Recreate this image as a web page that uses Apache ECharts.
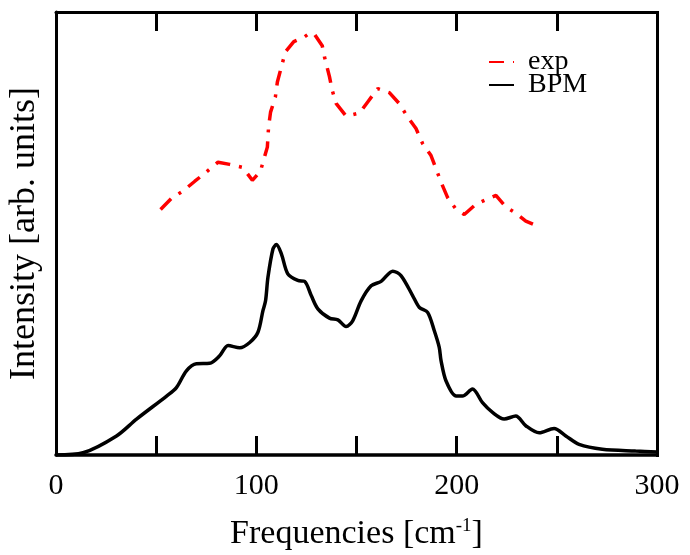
<!DOCTYPE html>
<html>
<head>
<meta charset="utf-8">
<script src="https://cdn.jsdelivr.net/npm/echarts@6/dist/echarts.min.js"></script>
<style>
html,body{margin:0;padding:0;background:#fff;}
#wrap{position:relative;width:690px;height:555px;}
#chart{width:690px;height:555px;}
#rightFrame{position:absolute;background:#000;width:3px;}
</style>
</head>
<body>
<div id="wrap"><div id="chart"></div><div id="rightFrame"></div></div>
<script>
// Frequencies (cm^-1) and intensities (arb. units)
var bpmFreq = [0, 13.5, 30.2, 40.2, 55.2, 60.1, 65.1, 70.1, 76.7, 81.7, 85.9, 91.7, 96.7, 100.8, 103.3, 104.6, 105.8, 108.3, 110.0, 112.5, 115.7, 120.7, 124.1, 127.4, 130.7, 136.5, 140.7, 144.8, 148.1, 152.3, 157.3, 162.3, 168.1, 172.2, 178.0, 181.4, 185.5, 188.8, 191.3, 192.2, 194.7, 199.7, 202.9, 207.9, 212.9, 217.9, 223.7, 229.5, 234.5, 241.2, 248.6, 254.5, 261.1, 272.7, 289.3, 300];
var bpmValues = [0, 0.5, 4.3, 8.1, 13.3, 15.2, 19.0, 20.6, 20.7, 22.4, 24.7, 24.2, 25.4, 27.7, 32.6, 34.8, 40.1, 46.5, 47.5, 45.4, 40.9, 39.4, 39.2, 36.0, 33.0, 30.9, 30.5, 29.0, 30.3, 34.8, 38.2, 39.2, 41.5, 40.5, 36.0, 33.3, 32.2, 28.1, 24.3, 21.3, 16.7, 13.3, 13.3, 14.9, 11.8, 9.6, 8.1, 8.8, 6.6, 5.0, 6.0, 4.3, 2.4, 1.3, 0.9, 0.7];
var expFreq = [52.2, 57.6, 63.4, 69.3, 75.1, 80.9, 86.7, 93.3, 98.0, 102.0, 104.1, 105.5, 106.1, 107.1, 109.5, 110.5, 112.5, 114.5, 118.7, 124.1, 126.9, 129.0, 132.9, 134.0, 136.5, 137.9, 139.9, 144.8, 151.5, 155.6, 160.6, 166.4, 171.4, 175.5, 179.7, 183.0, 187.2, 189.7, 192.2, 195.5, 199.3, 203.8, 209.6, 215.9, 219.6, 224.6, 229.5, 234.5, 240.8];
var expValues = [55.4, 57.9, 59.6, 61.8, 63.9, 66.1, 65.6, 64.9, 62.0, 64.0, 67.3, 69.5, 74.0, 77.4, 80.8, 84.2, 87.6, 91.0, 93.3, 94.4, 95.3, 95.0, 92.4, 89.9, 85.4, 82.3, 79.3, 76.5, 77.2, 79.7, 82.7, 81.8, 79.3, 76.3, 73.7, 70.3, 67.6, 64.6, 61.6, 58.1, 55.7, 54.3, 56.6, 57.9, 58.6, 56.0, 54.6, 52.8, 51.6];
var xTickLabels = [0, 100, 200, 300];
var xMax = 300;
var yMax = 100;
var seriesNames = ['exp', 'BPM'];

function pairs(xs, ys) { return xs.map(function (x, i) { return [x, ys[i]]; }); }

var FONT = '"Liberation Serif", "Times New Roman", "DejaVu Serif", serif';
var chart = echarts.init(document.getElementById('chart'), null, { renderer: 'canvas' });

function ticks() { return { show: true, inside: true, length: 19, lineStyle: { color: '#000', width: 3 } }; }

chart.setOption({
  animation: false,
  backgroundColor: '#fff',
  grid: { left: 56, right: 33, top: 12, bottom: 100, outerBoundsMode: 'none' },
  legend: {
    orient: 'vertical',
    left: 488, top: 48,
    padding: 0,
    itemGap: -5,
    itemWidth: 25, itemHeight: 14,
    data: seriesNames,
    itemStyle: { opacity: 0 },
    textStyle: { fontFamily: FONT, fontSize: 28, color: '#000', padding: [0, 0, 0, 9] }
  },
  xAxis: [{
    type: 'value', min: 0, max: xMax, interval: 50, position: 'bottom',
    axisLine: { show: true, lineStyle: { color: '#000', width: 3.5 } },
    axisTick: ticks(),
    splitLine: { show: false },
    axisLabel: {
      margin: 16, fontFamily: FONT, fontSize: 30, color: '#000',
      formatter: function (v) { return xTickLabels.indexOf(v) >= 0 ? String(v) : ''; }
    },
    name: '{a|Frequencies [cm}{s|-1}{a|]}',
    nameLocation: 'middle', nameGap: 62,
    nameTextStyle: {
      rich: {
        a: { fontFamily: FONT, fontSize: 34, color: '#000' },
        s: { fontFamily: FONT, fontSize: 19, color: '#000', verticalAlign: 'top', padding: [0, 0, 14, 0] }
      }
    }
  }, {
    type: 'value', min: 0, max: xMax, interval: 50, position: 'top',
    axisLine: { show: true, lineStyle: { color: '#000', width: 3 } },
    axisTick: ticks(), axisLabel: { show: false }, splitLine: { show: false }
  }],
  yAxis: [{
    type: 'value', min: 0, max: yMax,
    axisLine: { show: true, lineStyle: { color: '#000', width: 3 } },
    axisTick: { show: false }, axisLabel: { show: false }, splitLine: { show: false },
    name: 'Intensity [arb. units]', nameLocation: 'middle', nameGap: 13,
    nameTextStyle: { fontFamily: FONT, fontSize: 36, color: '#000' }
  }],
  series: [{
    name: seriesNames[0], type: 'line', showSymbol: false, symbol: 'none',
    data: pairs(expFreq, expValues),
    lineStyle: { color: '#ff0000', width: 3.5, type: [15, 9, 3, 9], cap: 'butt' },
    itemStyle: { color: '#ff0000' }
  }, {
    name: seriesNames[1], type: 'line', showSymbol: false, symbol: 'none',
    smooth: 0.3,
    data: pairs(bpmFreq, bpmValues),
    lineStyle: { color: '#000', width: 3.5 },
    itemStyle: { color: '#000' }
  }]
});

// right frame edge, placed from the chart's own scales
var xr = chart.convertToPixel({ xAxisIndex: 0 }, xMax);
var yTop = chart.convertToPixel({ yAxisIndex: 0 }, yMax);
var yBot = chart.convertToPixel({ yAxisIndex: 0 }, 0);
var rf = document.getElementById('rightFrame');
rf.style.left = (xr - 1.5) + 'px';
rf.style.top = (yTop - 1.5) + 'px';
rf.style.height = (yBot - yTop + 3) + 'px';
</script>
</body>
</html>
